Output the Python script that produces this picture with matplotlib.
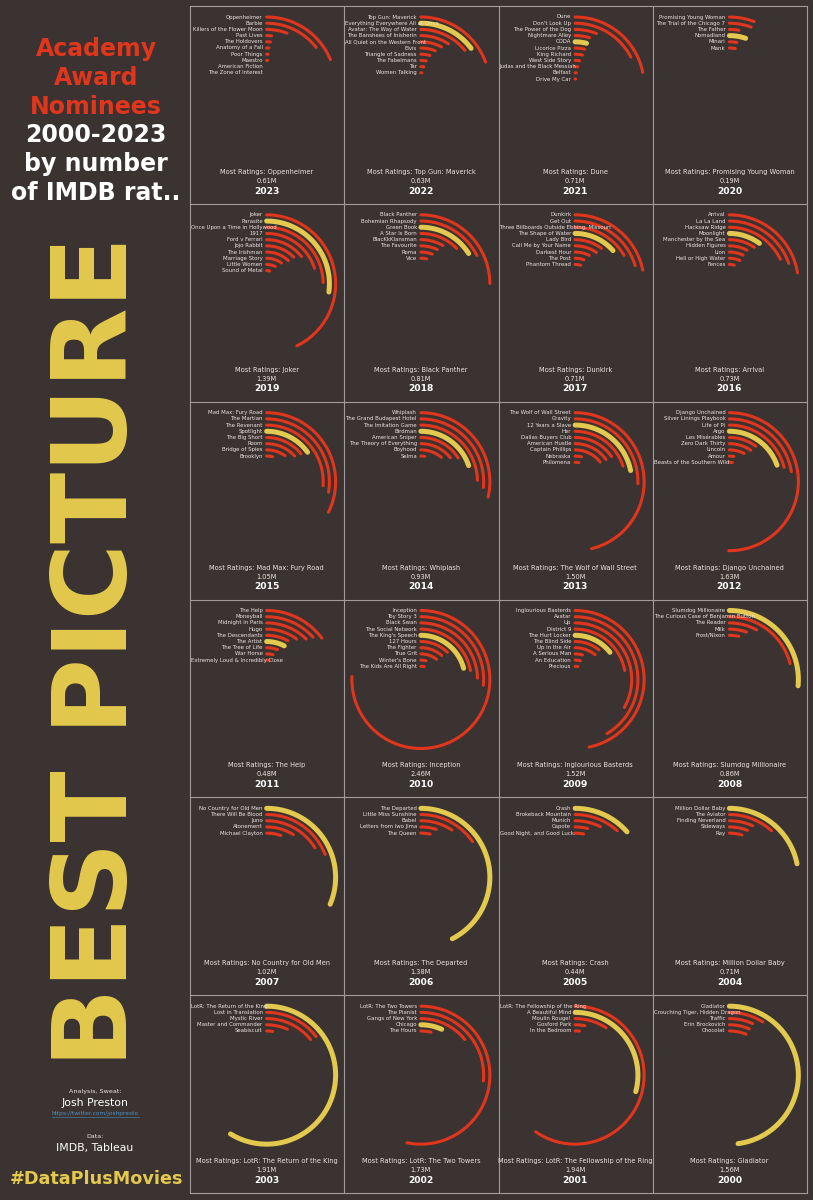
import numpy as np
import matplotlib
matplotlib.use("Agg")
import matplotlib.pyplot as plt
from matplotlib.transforms import offset_copy

# ============================ CORES / LAYOUT ============================
W, H = 813, 1200
BG = "#3b3232"
RED = "#e2361c"
YELLOW = "#e3c94d"
GRID = "#a39b9b"
TXT = "#ebe5e1"
FULL_CIRCLE_M = 3.25          # milhoes de ratings que fecham 360 graus
GX0, GX1, GY0, GY1 = 190, 807, 6, 1193
NCOL, NROW = 4, 6
R0, STEP = 69, 6.2            # raio do anel externo e passo entre aneis (px)

# ============================ DADOS (milhoes de ratings IMDB) ============================
YEARS = list(range(2023, 1999, -1))

FILMS = {
    2023: ["Oppenheimer", "Barbie", "Killers of the Flower Moon", "Past Lives", "The Holdovers",
           "Anatomy of a Fall", "Poor Things", "Maestro", "American Fiction", "The Zone of Interest"],
    2022: ["Top Gun: Maverick", "Everything Everywhere All at Once", "Avatar: The Way of Water",
           "The Banshees of Inisherin", "All Quiet on the Western Front", "Elvis", "Triangle of Sadness",
           "The Fabelmans", "Tár", "Women Talking"],
    2021: ["Dune", "Don't Look Up", "The Power of the Dog", "Nightmare Alley", "CODA", "Licorice Pizza",
           "King Richard", "West Side Story", "Judas and the Black Messiah", "Belfast", "Drive My Car"],
    2020: ["Promising Young Woman", "The Trial of the Chicago 7", "The Father", "Nomadland", "Minari", "Mank"],
    2019: ["Joker", "Parasite", "Once Upon a Time in Hollywood", "1917", "Ford v Ferrari", "Jojo Rabbit",
           "The Irishman", "Marriage Story", "Little Women", "Sound of Metal"],
    2018: ["Black Panther", "Bohemian Rhapsody", "Green Book", "A Star Is Born", "BlacKkKlansman",
           "The Favourite", "Roma", "Vice"],
    2017: ["Dunkirk", "Get Out", "Three Billboards Outside Ebbing, Missouri", "The Shape of Water", "Lady Bird",
           "Call Me by Your Name", "Darkest Hour", "The Post", "Phantom Thread"],
    2016: ["Arrival", "La La Land", "Hacksaw Ridge", "Moonlight", "Manchester by the Sea", "Hidden Figures",
           "Lion", "Hell or High Water", "Fences"],
    2015: ["Mad Max: Fury Road", "The Martian", "The Revenant", "Spotlight", "The Big Short", "Room",
           "Bridge of Spies", "Brooklyn"],
    2014: ["Whiplash", "The Grand Budapest Hotel", "The Imitation Game", "Birdman", "American Sniper",
           "The Theory of Everything", "Boyhood", "Selma"],
    2013: ["The Wolf of Wall Street", "Gravity", "12 Years a Slave", "Her", "Dallas Buyers Club",
           "American Hustle", "Captain Phillips", "Nebraska", "Philomena"],
    2012: ["Django Unchained", "Silver Linings Playbook", "Life of Pi", "Argo", "Les Misérables",
           "Zero Dark Thirty", "Lincoln", "Amour", "Beasts of the Southern Wild"],
    2011: ["The Help", "Moneyball", "Midnight in Paris", "Hugo", "The Descendants", "The Artist",
           "The Tree of Life", "War Horse", "Extremely Loud & Incredibly Close"],
    2010: ["Inception", "Toy Story 3", "Black Swan", "The Social Network", "The King's Speech", "127 Hours",
           "The Fighter", "True Grit", "Winter's Bone", "The Kids Are All Right"],
    2009: ["Inglourious Basterds", "Avatar", "Up", "District 9", "The Hurt Locker", "The Blind Side",
           "Up in the Air", "A Serious Man", "An Education", "Precious"],
    2008: ["Slumdog Millionaire", "The Curious Case of Benjamin Button", "The Reader", "Milk", "Frost/Nixon"],
    2007: ["No Country for Old Men", "There Will Be Blood", "Juno", "Atonement", "Michael Clayton"],
    2006: ["The Departed", "Little Miss Sunshine", "Babel", "Letters from Iwo Jima", "The Queen"],
    2005: ["Crash", "Brokeback Mountain", "Munich", "Capote", "Good Night, and Good Luck."],
    2004: ["Million Dollar Baby", "The Aviator", "Finding Neverland", "Sideways", "Ray"],
    2003: ["LotR: The Return of the King", "Lost in Translation", "Mystic River", "Master and Commander",
           "Seabiscuit"],
    2002: ["LotR: The Two Towers", "The Pianist", "Gangs of New York", "Chicago", "The Hours"],
    2001: ["LotR: The Fellowship of the Ring", "A Beautiful Mind", "Moulin Rouge!", "Gosford Park",
           "In the Bedroom"],
    2000: ["Gladiator", "Crouching Tiger, Hidden Dragon", "Traffic", "Erin Brockovich", "Chocolat"],
}

RATINGS = {
    2023: [0.61, 0.47, 0.19, 0.05, 0.044, 0.03, 0.024, 0.02, 0.015, 0.01],
    2022: [0.63, 0.48, 0.46, 0.30, 0.25, 0.20, 0.15, 0.11, 0.08, 0.04],
    2021: [0.71, 0.565, 0.20, 0.15, 0.135, 0.13, 0.12, 0.09, 0.07, 0.05, 0.04],
    2020: [0.19, 0.183, 0.087, 0.17, 0.088, 0.08],
    2019: [1.39, 0.88, 0.80, 0.65, 0.47, 0.41, 0.39, 0.32, 0.24, 0.12],
    2018: [0.81, 0.57, 0.52, 0.41, 0.27, 0.23, 0.19, 0.12],
    2017: [0.71, 0.66, 0.54, 0.44, 0.33, 0.31, 0.24, 0.18, 0.15],
    2016: [0.73, 0.64, 0.58, 0.33, 0.31, 0.25, 0.23, 0.22, 0.13],
    2015: [1.05, 0.90, 0.85, 0.49, 0.46, 0.43, 0.32, 0.12],
    2014: [0.93, 0.86, 0.80, 0.645, 0.52, 0.46, 0.36, 0.08],
    2013: [1.50, 0.83, 0.71, 0.65, 0.50, 0.49, 0.47, 0.13, 0.10],
    2012: [1.63, 0.73, 0.68, 0.64, 0.33, 0.31, 0.25, 0.09, 0.08],
    2011: [0.48, 0.43, 0.40, 0.33, 0.26, 0.25, 0.18, 0.13, 0.07],
    2010: [2.46, 0.86, 0.80, 0.72, 0.68, 0.40, 0.37, 0.34, 0.14, 0.13],
    2009: [1.52, 1.35, 1.08, 0.72, 0.47, 0.35, 0.35, 0.15, 0.14, 0.11],
    2008: [0.86, 0.68, 0.26, 0.18, 0.11],
    2007: [1.02, 0.62, 0.53, 0.29, 0.17],
    2006: [1.38, 0.50, 0.30, 0.16, 0.11],
    2005: [0.44, 0.38, 0.24, 0.13, 0.10],
    2004: [0.71, 0.38, 0.22, 0.19, 0.15],
    2003: [1.91, 0.47, 0.46, 0.22, 0.07],
    2002: [1.73, 0.86, 0.46, 0.22, 0.12],
    2001: [1.94, 0.95, 0.30, 0.10, 0.05],
    2000: [1.56, 0.29, 0.22, 0.21, 0.20],
}

WINNERS = {
    2023: None, 2022: "Everything Everywhere All at Once", 2021: "CODA", 2020: "Nomadland",
    2019: "Parasite", 2018: "Green Book", 2017: "The Shape of Water", 2016: "Moonlight",
    2015: "Spotlight", 2014: "Birdman", 2013: "12 Years a Slave", 2012: "Argo", 2011: "The Artist",
    2010: "The King's Speech", 2009: "The Hurt Locker", 2008: "Slumdog Millionaire",
    2007: "No Country for Old Men", 2006: "The Departed", 2005: "Crash", 2004: "Million Dollar Baby",
    2003: "LotR: The Return of the King", 2002: "Chicago", 2001: "A Beautiful Mind", 2000: "Gladiator",
}

TITLE_RED = ["Academy", "Award", "Nominees"]
TITLE_WHITE = ["2000-2023", "by number", "of IMDB rat.."]

# ============================ FIGURA ============================
fig = plt.figure(figsize=(W / 100, H / 100), dpi=100, facecolor=BG)
bg = fig.add_axes([0, 0, 1, 1])
bg.set_xlim(0, W); bg.set_ylim(H, 0); bg.axis("off")
renderer = fig.canvas.get_renderer()

cw = (GX1 - GX0) / NCOL
ch = (GY1 - GY0) / NROW
for k in range(NCOL + 1):
    bg.plot([GX0 + k * cw] * 2, [GY0, GY1], color=GRID, lw=0.8)
for k in range(NROW + 1):
    bg.plot([GX0, GX1], [GY0 + k * ch] * 2, color=GRID, lw=0.8)

RL = 76
for n, year in enumerate(YEARS):
    left, top = GX0 + (n % NCOL) * cw, GY0 + (n // NCOL) * ch
    cx, cy = left + cw / 2 - 0.5, top + 80
    pax = fig.add_axes([(cx - RL) / W, 1 - (cy + RL) / H, 2 * RL / W, 2 * RL / H], projection="polar")
    pax.set_theta_zero_location("N"); pax.set_theta_direction(-1)
    pax.set_ylim(0, RL); pax.set_axis_off(); pax.patch.set_alpha(0)

    for i, (film, val) in enumerate(zip(FILMS[year], RATINGS[year])):
        r = R0 - STEP * i
        th = np.linspace(0, val / FULL_CIRCLE_M * 2 * np.pi, 200)
        win = film == WINNERS[year]
        pax.plot(th, np.full_like(th, r), color=YELLOW if win else RED, lw=3.6 if win else 2.2,
                 solid_capstyle="round", zorder=3 if win else 2)
        t = pax.text(0, r, film, transform=offset_copy(pax.transData, fig=fig, x=-4, y=0, units="dots"),
                     ha="right", va="center", fontsize=3.9, color=TXT, zorder=5)
        if t.get_window_extent(renderer).x0 < left + 1:
            t.set_ha("left")
            t.set_transform(offset_copy(pax.transData, fig=fig, x=left + 1 - cx, y=0, units="dots"))

    top_i = int(np.argmax(RATINGS[year]))
    bg.text(cx, top + 166, f"Most Ratings: {FILMS[year][top_i]}", ha="center", va="center",
            fontsize=4.75, color=TXT)
    bg.text(cx, top + 175, f"{RATINGS[year][top_i]:.2f}M", ha="center", va="center", fontsize=4.75, color=TXT)
    bg.text(cx, top + 185, str(year), ha="center", va="center", fontsize=6.6, fontweight="bold", color="white")

# ============================ PAINEL ESQUERDO ============================
for j, line in enumerate(TITLE_RED + TITLE_WHITE):
    bg.text(96, 56 + j * 28.8, line, ha="center", va="baseline", fontsize=17, fontweight="bold",
            color=RED if line in TITLE_RED else "white")

bg.text(99, 652, "BEST PICTURE", rotation=90, ha="center", va="center", fontsize=75,
        fontweight="bold", color=YELLOW)

bg.text(95, 1092, "Analysis, Sweat:", ha="center", va="center", fontsize=4.6, color=TXT)
bg.text(95, 1103, "Josh Preston", ha="center", va="center", fontsize=7.8, color="white")
link = bg.text(95, 1113, "https://twitter.com/joshpresto", ha="center", va="center", fontsize=4.2,
               color="#4e8fbd")
bb = link.get_window_extent(renderer)
bg.plot([bb.x0, bb.x1], [1116.5, 1116.5], color="#4e8fbd", lw=0.4)
bg.text(95, 1137, "Data:", ha="center", va="center", fontsize=4.6, color=TXT)
bg.text(95, 1148, "IMDB, Tableau", ha="center", va="center", fontsize=7.8, color="white")
bg.text(96, 1179, "#DataPlusMovies", ha="center", va="center", fontsize=12.7, fontweight="bold", color=YELLOW)

fig.savefig("out.png", dpi=100, facecolor=BG)
